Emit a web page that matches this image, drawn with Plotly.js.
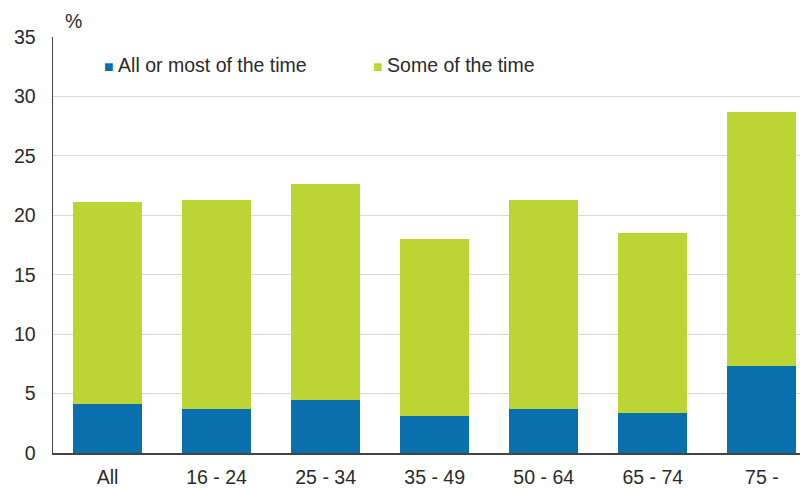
<!DOCTYPE html>
<html><head><meta charset="utf-8">
<script src="https://cdn.plot.ly/plotly-3.0.1.min.js"></script>
<style>html,body{margin:0;padding:0;background:#fff}</style>
</head><body>
<div id="chart" style="width:800px;height:489px"></div>
<script>
const categories = ["All", "16 - 24", "25 - 34", "35 - 49", "50 - 64", "65 - 74", "75 -"];
const allOrMost = [4.1, 3.7, 4.5, 3.1, 3.7, 3.4, 7.3];
const someOfTime = [17.0, 17.6, 18.1, 14.9, 17.6, 15.1, 21.4];
const yTicks = [0, 5, 10, 15, 20, 25, 30, 35];
const seriesNames = ["All or most of the time", "Some of the time"];
const seriesColors = ["#0a70ad", "#bcd534"];

const font = {family: "Liberation Sans, Arial, sans-serif", size: 19.5, color: "#2a2a2a"};
const traces = [
  {type: "bar", name: seriesNames[0], x: categories, y: allOrMost, marker: {color: seriesColors[0]}},
  {type: "bar", name: seriesNames[1], x: categories, y: someOfTime, marker: {color: seriesColors[1]}}
];
const legendX = [0.066, 0.426];
const legendAnn = seriesNames.map((n, i) => ({
  text: '<span style="color:' + seriesColors[i] + ';font-size:16px">■ </span>' + n,
  xref: "paper", yref: "paper", x: legendX[i], y: 0.932, xanchor: "left", yanchor: "middle",
  showarrow: false, font: font
}));
const layout = {
  width: 800, height: 489,
  margin: {l: 53, r: 0, t: 37, b: 36},
  barmode: "stack", bargap: 0.37,
  paper_bgcolor: "#fff", plot_bgcolor: "#fff",
  font: font,
  showlegend: false,
  xaxis: {range: [-0.5, 6.35], showline: true, linecolor: "#444", linewidth: 1.5,
          ticks: "", showgrid: false, tickfont: font, ticklabelstandoff: 6, fixedrange: true},
  yaxis: {range: [0, 35], tickvals: yTicks, showline: true, linecolor: "#444", linewidth: 1.5,
          ticks: "", showgrid: true, gridcolor: "#d9d9d9", gridwidth: 1, zeroline: false,
          tickfont: font, ticklabelstandoff: 12, fixedrange: true},
  annotations: [{text: "%", xref: "paper", yref: "paper", x: 0.014, y: 1.0, xanchor: "left",
                 yanchor: "bottom", yshift: 3, showarrow: false, font: font}].concat(legendAnn)
};
Plotly.newPlot("chart", traces, layout, {displayModeBar: false, staticPlot: true});
</script>
</body></html>
